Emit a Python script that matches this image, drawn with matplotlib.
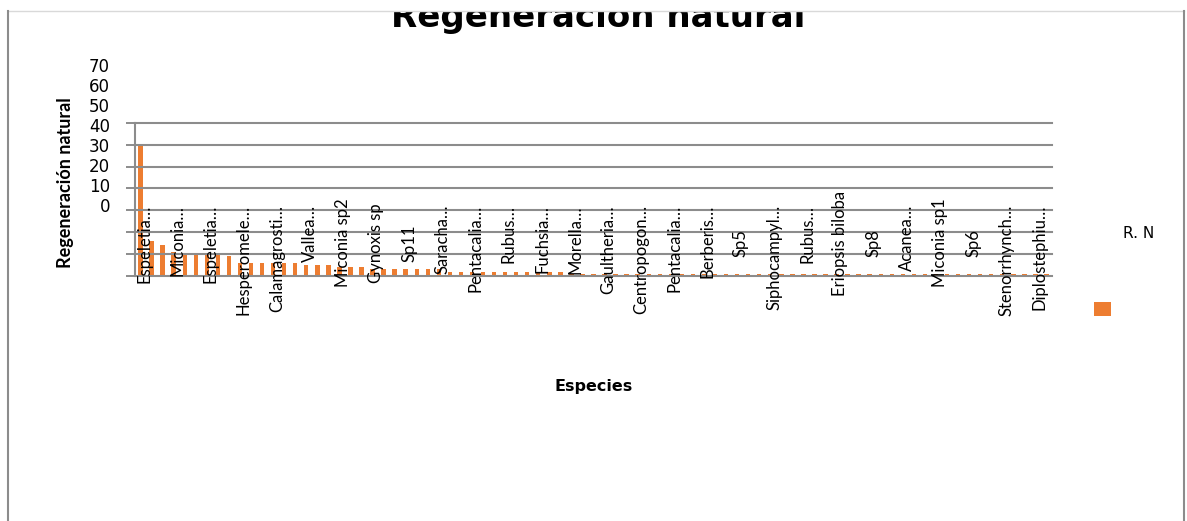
import matplotlib
matplotlib.use("Agg")
import matplotlib.pyplot as plt
from matplotlib.patches import Rectangle
from matplotlib.lines import Line2D
from matplotlib.transforms import blended_transform_factory
import numpy as np

# Natural regeneration counts per species (sorted, highest first)
regeneracion = [60, 16, 14, 11, 10, 10, 10, 10, 9, 6,
                6, 6, 6, 6, 6, 5, 5, 5, 4, 4,
                4, 3, 3, 3, 3, 3, 3, 3, 2, 2,
                2, 2, 2, 2, 2, 2, 2, 2, 2, 1,
                1, 1, 1, 1, 1, 1, 1, 1, 1, 1,
                1, 1, 1, 1, 1, 1, 1, 1, 1, 1,
                1, 1, 1, 1, 1, 1, 1, 1, 1, 1,
                1, 1, 1, 1, 1, 1, 1, 1, 1, 1,
                1, 1, 1]

# Species names shown on the category axis (one every third category)
especies_visibles = ["Espeletia…", "Miconia…", "Espeletia…", "Hesperomele…",
                     "Calamagrosti…", "Vallea…", "Miconia sp2", "Gynoxis sp",
                     "Sp11", "Saracha…", "Pentacalia…", "Rubus…", "Fuchsia…",
                     "Morella…", "Gaultheria…", "Centropogon…", "Pentacalia…",
                     "Berberis…", "Sp5", "Siphocampyl…", "Rubus…",
                     "Eriopsis biloba", "Sp8", "Acanea…", "Miconia sp1", "Sp6",
                     "Stenorrhynch…", "Diplostephiu…"]
paso_etiquetas = 3

valores_eje_y = [0, 10, 20, 30, 40, 50, 60, 70]

titulo = "Regeneración natural"
etiqueta_y = "Regeneración natural"
etiqueta_x = "Especies"
serie = "R. N"

W, H, DPI = 1187, 521, 100
NARANJA = "#ED7D31"
GRIS = "#8c8c8c"
ESTRECHA = ["Lato", "DejaVu Sans"]


def fx(px):
    return px / W


def fy(py):
    return 1 - py / H


fig = plt.figure(figsize=(W / DPI, H / DPI), dpi=DPI)
fig.patch.set_facecolor("white")

fl, fr, ft = 8, 1184, 11

# Chart title (its upper part falls outside the chart frame)
fig.text(fx(598), fy(27), titulo, ha="center", va="baseline",
         fontsize=24.5, weight="bold", zorder=1)

# Plot area
x0, x1, y_top, y_bot = 135, 1052, 122.7, 276
ax = fig.add_axes([fx(x0), fy(y_bot), (x1 - x0) / W, (y_bot - y_top) / H],
                  zorder=2)
x = np.arange(len(regeneracion))
ax.bar(x, regeneracion, width=0.4, color=NARANJA, zorder=1)
ax.set_xlim(-0.5, len(regeneracion) - 0.5)
ax.set_ylim(valores_eje_y[0], valores_eje_y[-1])
ax.set_yticks(valores_eje_y)
ax.set_xticks([])
ax.tick_params(axis="y", length=6.5, width=1.4, color=GRIS, labelleft=False)
ax.grid(axis="y", color=GRIS, lw=1.5)
ax.set_axisbelow(False)
for gl in ax.get_ygridlines():
    gl.set_clip_on(False)
for side in ("top", "right", "bottom"):
    ax.spines[side].set_visible(False)
ax.spines["left"].set_color(GRIS)
ax.spines["left"].set_linewidth(1.5)
ax.patch.set_visible(False)

# Category labels, drawn over the plot area
trans = blended_transform_factory(ax.transData, fig.transFigure)
for k, nombre in enumerate(especies_visibles):
    i = k * paso_etiquetas
    if nombre.endswith("…"):
        ax.text(i + 0.35, fy(205), nombre, rotation=90, ha="center", va="top",
                transform=trans, fontsize=12, family=ESTRECHA, zorder=5,
                clip_on=False)
    else:
        ax.text(i + 0.35, fy(243), nombre, rotation=90, ha="center",
                va="center", transform=trans, fontsize=12, family=ESTRECHA,
                zorder=5, clip_on=False)

# Value labels of the vertical axis
ax_lbl = fig.add_axes([fx(x0), fy(204.5), (x1 - x0) / W, (204.5 - 64.5) / H],
                      zorder=1)
ax_lbl.set_ylim(valores_eje_y[0], valores_eje_y[-1])
ax_lbl.set_yticks(valores_eje_y)
ax_lbl.set_yticklabels([str(v) for v in valores_eje_y])
ax_lbl.set_xticks([])
ax_lbl.tick_params(axis="y", length=0, pad=18, labelsize=12)
for s in ax_lbl.spines.values():
    s.set_visible(False)
ax_lbl.patch.set_visible(False)

# Axis titles
fig.text(fx(66), fy(183), etiqueta_y, rotation=90, ha="center", va="center",
         fontsize=13, weight="bold", family=ESTRECHA)
fig.text(fx(594), fy(387), etiqueta_x, ha="center", va="center",
         fontsize=11.5, weight="bold")

# Legend
fig.text(fx(1139), fy(233), serie, ha="center", va="center", fontsize=11)
fig.add_artist(Rectangle((fx(1094), fy(316)), 17 / W, 14 / H,
                         transform=fig.transFigure, color=NARANJA, lw=0))

# Blank margin above the chart frame, painted over everything below it
ax_top = fig.add_axes([0, fy(ft), 1, 1 - fy(ft)], zorder=10)
ax_top.set_facecolor("white")
ax_top.set_xticks([])
ax_top.set_yticks([])
for s in ax_top.spines.values():
    s.set_visible(False)

# Chart frame
fig.add_artist(Line2D([fx(fl), fx(fr)], [fy(ft), fy(ft)],
                      transform=fig.transFigure, color="#d9d9d9", lw=1,
                      zorder=11))
fig.add_artist(Line2D([fx(fl), fx(fl)], [fy(ft), 0],
                      transform=fig.transFigure, color=GRIS, lw=1.5,
                      zorder=11))
fig.add_artist(Line2D([fx(fr), fx(fr)], [fy(ft), 0],
                      transform=fig.transFigure, color=GRIS, lw=1.5,
                      zorder=11))

fig.savefig("out.png", dpi=DPI)
